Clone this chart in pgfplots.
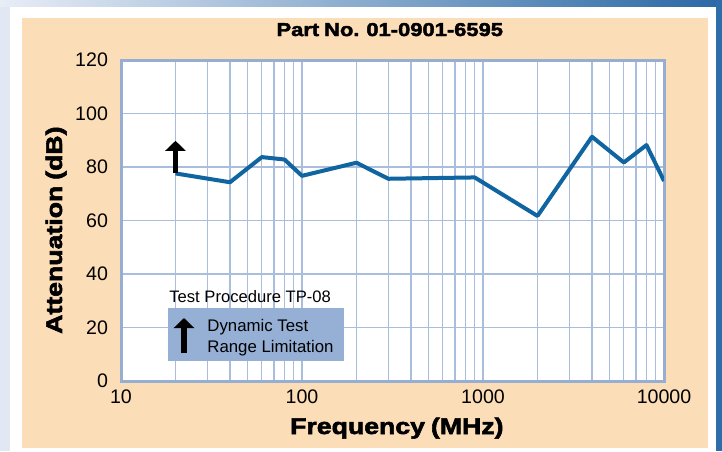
\documentclass[border=0pt]{standalone}
\usepackage{pgfplots}
\pgfplotsset{compat=1.18}
\usepackage{fontspec}
\setmainfont{Liberation Sans}
\newfontfamily\heavyfont[FakeStretch=1.18,FakeBold=2.5,WordSpace=0.8]{Liberation Sans}
\usetikzlibrary{arrows.meta}
\definecolor{peach}{HTML}{FBDDB8}
\definecolor{linecol}{HTML}{1065A0}
\definecolor{gridblue}{HTML}{A9BDDC}
\definecolor{axisblue}{HTML}{97AED3}
\definecolor{legendblue}{HTML}{95AFD5}
\definecolor{leftstrip}{HTML}{E2E8F3}
\definecolor{topleft}{HTML}{E8EDF6}
\definecolor{topright}{HTML}{2A68A5}
\definecolor{rightbar}{HTML}{2E6DAA}
\begin{document}
\begin{tikzpicture}
\begin{scope}[x=0.5pt,y=-0.5pt,yshift=225.5pt]
\useasboundingbox (0,0) rectangle (722,451);
\fill[white] (0,0) rectangle (722,451);
\fill[leftstrip] (0,0) rectangle (10,451);
\shade[left color=topleft, right color=topright] (0,0) rectangle (722,7);
\fill[peach] (22,18) rectangle (708,448);
\fill[rightbar] (716,0) rectangle (722,451);
\end{scope}
\begin{axis}[
  at={(60.5pt,35pt)}, anchor=south west, scale only axis,
  width=271.5pt, height=160.5pt,
  xmode=log, xmin=10, xmax=10000, ymin=0, ymax=120,
  xtick={10,100,1000,10000}, xticklabels={10,100,1000,10000},
  minor xtick={20,30,40,50,60,70,80,90,200,300,400,500,600,700,800,900,2000,3000,4000,5000,6000,7000,8000,9000},
  ytick={0,20,40,60,80,100,120},
  xmajorgrids, xminorgrids, ymajorgrids,
  major tick length=0pt, minor tick length=0pt,
  axis background/.style={fill=white},
  axis line style={draw=axisblue, line width=1.5pt},
  major grid style={draw=gridblue, line width=0.75pt},
  minor grid style={draw=gridblue, line width=0.55pt},
  tick label style={font=\fontsize{9.8}{11}\selectfont},
  /pgf/number format/assume math mode=true,
  yticklabel style={xshift=-3pt},
  xticklabel style={yshift=-1pt},
  xlabel={\heavyfont\bfseries Frequency (MHz)},
  ylabel={\heavyfont\bfseries Attenuation (dB)},
  label style={font=\fontsize{11.3}{13}\selectfont},
  xlabel style={at={(axis description cs:0.508,0)}, anchor=base, yshift=-26.5pt},
  ylabel style={at={(axis description cs:-0.1087,0.47)}, anchor=base},
  title={\heavyfont\bfseries Part No. 01-0901-6595},
  title style={font=\fontsize{9.3}{11}\selectfont, at={(axis description cs:0.495,1)}, anchor=base, yshift=6pt},
]
\addplot[linecol, line width=2pt, line join=round] coordinates {
(20,77.6) (40,74.3) (60,83.7) (80,82.8) (100,76.7) (200,81.6) (300,75.6) (900,76.1) (2000,61.7) (4000,91.3) (6000,81.7) (8000,88.2) (10000,74.8)
};
\draw[black, line width=2.6pt, -{Triangle[width=10pt,length=5pt]}] (axis cs:20,77.6) -- (axis cs:20,89.8);
\end{axis}
\begin{scope}[x=0.5pt,y=-0.5pt,yshift=225.5pt]
\fill[legendblue] (168,308) rectangle (344,361);
\node[anchor=base west, inner sep=0pt, font=\fontsize{8.3}{10}\selectfont] at (169,302) {Test Procedure TP-08};
\draw[black, line width=2.6pt, -{Triangle[width=10pt,length=5pt]}] (184,353) -- (184,318);
\node[anchor=base west, inner sep=0pt, font=\fontsize{8.4}{10}\selectfont] at (207,331) {Dynamic Test};
\node[anchor=base west, inner sep=0pt, font=\fontsize{8.4}{10}\selectfont] at (207,352) {Range Limitation};
\end{scope}
\end{tikzpicture}
\end{document}
